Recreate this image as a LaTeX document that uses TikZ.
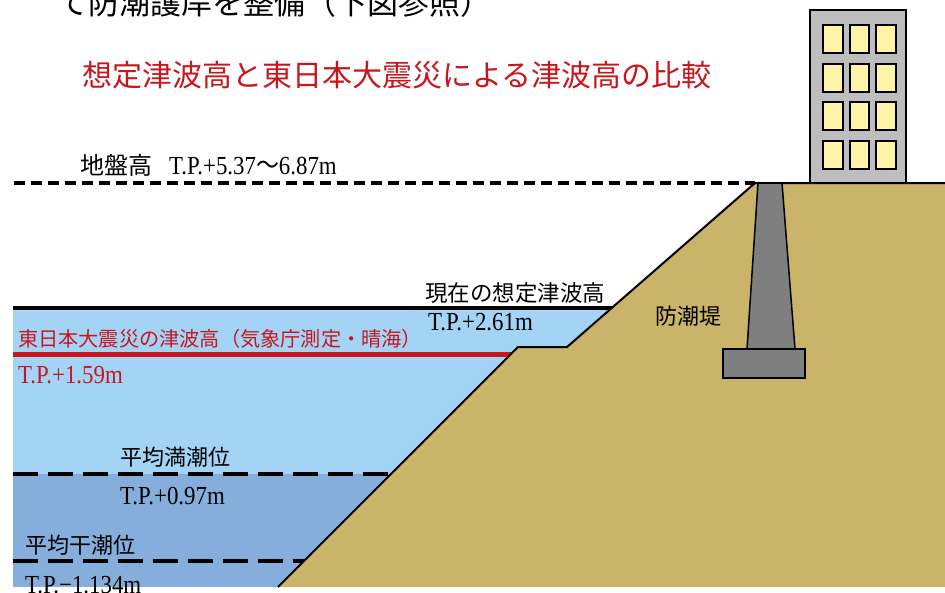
\documentclass[tikz,border=0pt]{standalone}
\usepackage{graphicx}
\usepackage{fontspec}
\setmainfont{Liberation Serif}
\newfontfamily\jp{Noto Sans CJK JP}
\definecolor{seablue}{HTML}{A3D3F5}
\definecolor{deepblue}{HTML}{86AEDC}
\definecolor{bank}{HTML}{C9B46A}
\definecolor{wallgray}{HTML}{7F7F7F}
\definecolor{bldgray}{HTML}{BEBEBE}
\definecolor{winyellow}{HTML}{FFF4A8}
\definecolor{tsured}{HTML}{C8161E}
% narrow serif for the T.P. heights
\newcommand{\tpval}[1]{\scalebox{0.88}[1]{#1}}

\begin{document}
\begin{tikzpicture}[x=1pt, y=-1pt,
    jptext/.style={font=\jp\fontsize{22}{22}\selectfont, inner sep=0pt, anchor=west},
    tptext/.style={font=\fontsize{26}{26}\selectfont, inner sep=0pt, anchor=west},
    dashline/.style={line width=4pt, dash pattern=on 25pt off 10pt},
    window/.style={fill=winyellow, draw=black, line width=2pt}]
      \useasboundingbox (0, 0) rectangle (945, 592);
      % sea, two layers
      \fill [seablue]  (13, 308) rectangle (700, 474);
      \fill [deepblue] (13, 474) rectangle (700, 587);
      % tide and tsunami levels (the bank covers their right ends)
      \draw [line width=4pt] (13, 308) -- (700, 308);
      \draw [tsured, line width=5pt] (13, 354) -- (700, 354);
      \draw [dashline] (13, 474) -- (700, 474);
      \draw [dashline] (13, 561) -- (700, 561);
      % embankment
      \fill [bank] (278, 587) -- (518, 347) -- (567, 347) -- (755, 183)
                   -- (945, 183) -- (945, 587) -- cycle;
      \draw [line width=2pt] (278, 587) -- (518, 347) -- (567, 347) -- (755, 183)
                             -- (945, 183);
      % sea wall
      \draw [fill=wallgray, line width=1.5pt] (758, 183) -- (782, 183) -- (795, 349)
                                              -- (747, 349) -- cycle;
      \draw [fill=wallgray, line width=1.5pt] (723, 349) rectangle (805, 378);
      % building
      \draw [fill=bldgray, line width=1.5pt] (810, 10) rectangle (906, 183);
      \foreach \wx in {823, 849.5, 876}
        \foreach \wy in {25, 64, 102, 141}
          \draw [window] (\wx, \wy) rectangle +(19.5, 27.5);
      % ground level
      \draw [line width=4pt, dash pattern=on 11pt off 6pt] (14, 183) -- (755, 183);

      \node (lead) [anchor=west, inner sep=0pt, font=\jp\fontsize{31}{31}\selectfont]
            at (57, 3) {て防潮護岸を整備（下図参照）};
      \node (title) [inner sep=0pt, text=tsured, font=\jp\fontsize{30}{30}\selectfont]
            at (397, 75) {想定津波高と東日本大震災による津波高の比較};
      \node (ground) [tptext] at (80, 165)
            {{\jp\fontsize{24}{24}\selectfont 地盤高}\hspace{17pt}\tpval{T.P.+5.37{\jp 〜}6.87m}};
      \node (assumed) [jptext, font=\jp\fontsize{22.5}{22.5}\selectfont] at (425, 293) {現在の想定津波高};
      \node (assumedtp) [tptext] at (428, 322) {\tpval{T.P.+2.61m}};
      \node (quake) [jptext, text=tsured, font=\jp\fontsize{20.2}{20.2}\selectfont] at (18, 339)
            {東日本大震災の津波高（気象庁測定・晴海）};
      \node (quaketp) [tptext, text=tsured] at (18, 375) {\tpval{T.P.+1.59m}};
      \node (wall) [jptext] at (655, 316) {防潮堤};
      \node (high) [jptext] at (120, 457) {平均満潮位};
      \node (hightp) [tptext] at (120, 496) {\tpval{T.P.+0.97m}};
      \node (low) [jptext] at (25, 545) {平均干潮位};
      \node (lowtp) [tptext] at (25, 585) {\tpval{T.P.−1.134m}};
\end{tikzpicture}
\end{document}
